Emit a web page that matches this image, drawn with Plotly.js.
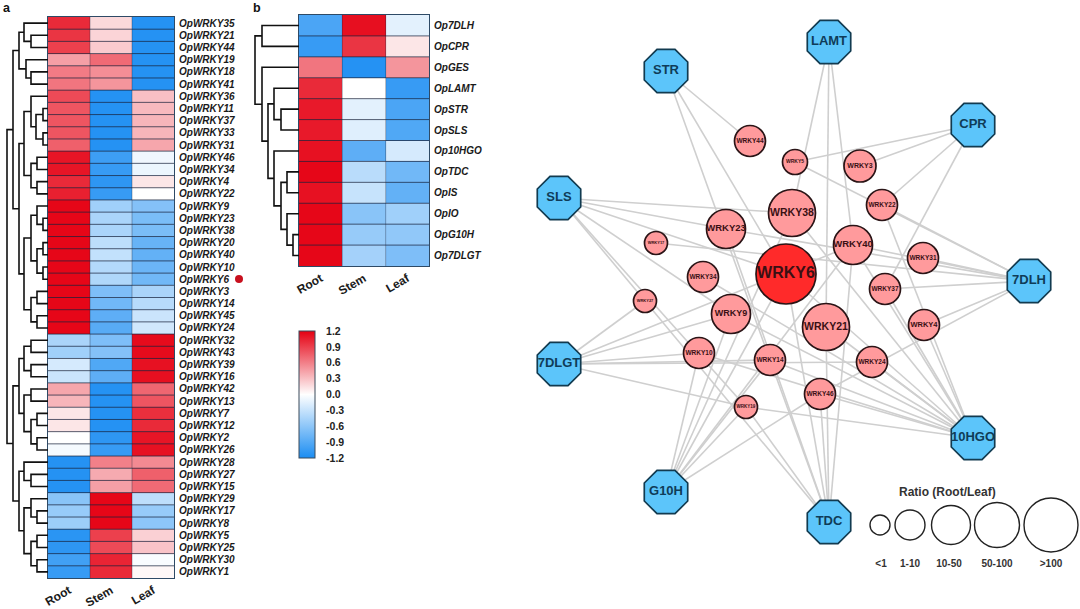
<!DOCTYPE html>
<html><head><meta charset="utf-8">
<script src="https://cdn.plot.ly/plotly-3.0.1.min.js"></script>
<style>html,body{margin:0;padding:0;background:#fff}#c{width:1080px;height:609px}</style>
</head><body><div id="c"></div>
<script>
const tissues=['Root','Stem','Leaf'];
const genesA=['OpWRKY35','OpWRKY21','OpWRKY44','OpWRKY19','OpWRKY18','OpWRKY41','OpWRKY36','OpWRKY11','OpWRKY37','OpWRKY33','OpWRKY31','OpWRKY46','OpWRKY34','OpWRKY4','OpWRKY22','OpWRKY9','OpWRKY23','OpWRKY38','OpWRKY20','OpWRKY40','OpWRKY10','OpWRKY6','OpWRKY3','OpWRKY14','OpWRKY45','OpWRKY24','OpWRKY32','OpWRKY43','OpWRKY39','OpWRKY16','OpWRKY42','OpWRKY13','OpWRKY7','OpWRKY12','OpWRKY2','OpWRKY26','OpWRKY28','OpWRKY27','OpWRKY15','OpWRKY29','OpWRKY17','OpWRKY8','OpWRKY5','OpWRKY25','OpWRKY30','OpWRKY1'];
const rootA=[1.0,.95,.9,.45,.62,.65,.85,.8,.8,.8,.75,1.1,1.1,1.0,1.05,1.17,1.17,1.17,1.17,1.17,1.17,1.17,1.17,1.17,1.17,1.17,-.45,-.5,-.22,-.28,.42,.35,.12,.12,0,-.05,-1.15,-1.15,-1.15,-.62,-.55,-.52,-1.12,-1.1,-1.0,-1.05];
const stemA=[.18,.2,.25,.7,.53,.5,-1.15,-1.15,-1.15,-1.15,-1.15,-1.02,-1.05,-1.1,-1.05,-.5,-.45,-.45,-.35,-.32,-.4,-.42,-.68,-.75,-.85,-.88,-.68,-.65,-.92,-.85,-1.15,-1.15,-1.15,-1.15,-1.1,-1.05,.6,.4,.45,1.17,1.17,1.17,.9,.85,1.03,1.0];
const leafA=[-1.15,-1.15,-1.15,-1.15,-1.15,-1.15,.3,.33,.35,.35,.42,-.08,-.1,.12,0,-.65,-.7,-.7,-.8,-.82,-.78,-.75,-.45,-.38,-.28,-.25,1.15,1.15,1.12,1.13,.72,.8,.98,1.0,1.1,1.12,.55,.75,.7,-.35,-.55,-.6,.22,.28,-.03,.04];
const genesB=['Op7DLH','OpCPR','OpGES','OpLAMT','OpSTR','OpSLS','Op10HGO','OpTDC','OpIS','OpIO','OpG10H','Op7DLGT'];
const rootB=[-.95,-1.05,.65,1.0,1.08,1.08,1.12,1.17,1.12,1.17,1.17,1.17];
const stemB=[1.13,.95,-1.15,0,-.15,-.17,-.85,-.37,-.3,-.62,-.55,-.48];
const leafB=[-.15,.12,.5,-1.05,-.95,-.92,-.22,-.75,-.82,-.5,-.58,-.68];
const cbTicks=[-1.2,-.9,-.6,-.3,0,.3,.6,.9,1.2];
const cbLabels=['-1.2','-0.9','-0.6','-0.3','0.0','0.3','0.6','0.9','1.2'];
// dendrogram merges: [merge height, left branch, right branch]; a number is a row
const treeA=[41,[35,[29,[24,0,[17,1,2]],[22,3,[17,4,5]]],[29,[24,[17,6,[12,[5,7,8],[5,9,10]]],[17,[11,11,12],[11,13,14]]],[24,[17,[11,15,[5,16,17]],[11,[5,18,19],[5,20,21]]],[17,[11,22,23],[11,24,25]]]]],[35,[29,[24,[17,26,27],[17,28,29]],[24,[17,30,31],[17,[11,32,33],[11,34,35]]]],[29,[24,36,[17,37,38]],[24,[17,39,[11,40,41]],[17,[11,42,43],[11,44,45]]]]]];
const treeB=[44,[37,0,1],[37,2,[31,[25,3,[18,4,5]],[25,6,[18,[12,7,8],[12,9,[6,10,11]]]]]]];
// network
const hubNames=['LAMT','STR','CPR','SLS','7DLH','7DLGT','10HGO','G10H','TDC'];
const hubX=[829,666,973,559,1029,559,973,666,829];
const hubY=[42,71,125,198,281,364,438,492,522];
const nodeNames=['WRKY6','WRKY44','WRKY5','WRKY3','WRKY22','WRKY38','WRKY23','WRKY40','WRKY17','WRKY31','WRKY34','WRKY37','WRKY27','WRKY9','WRKY21','WRKY4','WRKY10','WRKY14','WRKY24','WRKY46','WRKY19'];
const nodeX=[786,750,795,860,882,792,726,853,656,923,703,885,645,731,826,924,699,770,872,820,746];
const nodeY=[274,141,162,166,205,213,229,245,243,258,277,289,301,314,327,325,353,360,362,394,407];
const nodeD=[60,31,25,32,31,47,39,39,23,31,31,31,23,39,47,31,31,31,31,31,23];
const nodeFont=[16,6.5,5,7,6.5,10.5,9.5,9.5,4,6.5,6.5,6.5,4,9,10.5,7.5,6.5,6.5,6.5,6.5,4.5];
const links=[
['LAMT','WRKY38'],['LAMT','WRKY21'],['LAMT','WRKY40'],
['STR','WRKY44'],['STR','WRKY14'],['STR','WRKY6'],
['CPR','WRKY5'],['CPR','WRKY3'],['CPR','WRKY22'],['CPR','WRKY37'],
['SLS','WRKY38'],['SLS','WRKY23'],['SLS','WRKY6'],['SLS','WRKY9'],['SLS','WRKY27'],['SLS','WRKY19'],
['7DLH','WRKY17'],['7DLH','WRKY5'],['7DLH','WRKY31'],['7DLH','WRKY40'],['7DLH','WRKY37'],['7DLH','WRKY4'],['7DLH','WRKY46'],['7DLH','WRKY23'],['7DLH','WRKY22'],
['7DLGT','WRKY27'],['7DLGT','WRKY40'],['7DLGT','WRKY9'],['7DLGT','WRKY10'],['7DLGT','WRKY14'],['7DLGT','WRKY24'],['7DLGT','WRKY19'],
['G10H','WRKY10'],['G10H','WRKY9'],['G10H','WRKY38'],['G10H','WRKY6'],['G10H','WRKY14'],['G10H','WRKY40'],['G10H','WRKY19'],['G10H','WRKY46'],
['TDC','WRKY27'],['TDC','WRKY14'],['TDC','WRKY23'],['TDC','WRKY6'],['TDC','WRKY46'],['TDC','WRKY21'],['TDC','WRKY40'],['TDC','WRKY19'],
['10HGO','WRKY22'],['10HGO','WRKY4'],['10HGO','WRKY37'],['10HGO','WRKY38'],['10HGO','WRKY21'],['10HGO','WRKY24'],['10HGO','WRKY46'],['10HGO','WRKY9'],['10HGO','WRKY34'],['10HGO','WRKY14'],['10HGO','WRKY10'],['10HGO','WRKY19'],['10HGO','WRKY6'],['10HGO','WRKY40']];
const ratioLabels=['<1','1-10','10-50','50-100','>100'];
const ratioX=[880,910,951,997,1051];
const ratioLabelX=[881,910,949,997,1051];
const ratioD=[20,30,39,45,54];
const ratioY=525, ratioLabelY=564;

const W=1080,H=609,SANS='"Liberation Sans",Arial,sans-serif';
const cs=[[0,'#1B8DF2'],[.5,'#FFFFFF'],[1,'#E50012']];
const px=(a,b)=>[a/W,b/W], py=(t,b)=>[1-b/H,1-t/H];
function treeLines(n,xs,ys){
  if(typeof n==='number')return{h:0,y:n};
  const a=treeLines(n[1],xs,ys),b=treeLines(n[2],xs,ys);
  xs.push(a.h,n[0],n[0],b.h,null);ys.push(a.y,a.y,b.y,b.y,null);
  return{h:n[0],y:(a.y+b.y)/2};
}
function gridLines(nr,xa,ya){
  const xs=[],ys=[],vx=[],vy=[];
  for(let i=1;i<nr;i++){xs.push(-.5,2.5,null);ys.push(i-.5,i-.5,null);}
  for(const c of [.5,1.5]){vx.push(c,c,null);vy.push(-.5,nr-.5,null);}
  return[{type:'scatter',mode:'lines',x:xs,y:ys,xaxis:xa,yaxis:ya,line:{color:'rgba(25,35,60,.72)',width:1},hoverinfo:'skip',showlegend:false},
         {type:'scatter',mode:'lines',x:vx,y:vy,xaxis:xa,yaxis:ya,line:{color:'rgba(25,35,60,.35)',width:1},hoverinfo:'skip',showlegend:false}];
}
const traces=[];
const zA=genesA.map((_,i)=>[rootA[i],stemA[i],leafA[i]]);
const zB=genesB.map((_,i)=>[rootB[i],stemB[i],leafB[i]]);
traces.push({type:'heatmap',z:zA,x:[0,1,2],y:genesA.map((_,i)=>i),xaxis:'x',yaxis:'y',colorscale:cs,zmin:-1.2,zmax:1.2,
 colorbar:{thickness:16,thicknessmode:'pixels',len:127,lenmode:'pixels',x:299/W,xanchor:'left',y:1-331/H,yanchor:'top',xpad:0,ypad:0,
  outlinecolor:'#3a4a5a',outlinewidth:1,tickmode:'array',tickvals:cbTicks,ticktext:cbLabels,ticks:'outside',ticklen:9,tickcolor:'rgba(0,0,0,0)',
  tickfont:{family:SANS,size:10.5,color:'#222',weight:'bold'}}});
traces.push({type:'heatmap',z:zB,x:[0,1,2],y:genesB.map((_,i)=>i),xaxis:'x3',yaxis:'y3',colorscale:cs,zmin:-1.2,zmax:1.2,showscale:false});
traces.push(...gridLines(genesA.length,'x','y'),...gridLines(genesB.length,'x3','y3'));
let xs=[],ys=[];treeLines(treeA,xs,ys);
traces.push({type:'scatter',mode:'lines',x:xs,y:ys,xaxis:'x2',yaxis:'y',line:{color:'#111',width:1.6},hoverinfo:'skip',showlegend:false});
xs=[];ys=[];treeLines(treeB,xs,ys);
traces.push({type:'scatter',mode:'lines',x:xs,y:ys,xaxis:'x4',yaxis:'y3',line:{color:'#111',width:1.6},hoverinfo:'skip',showlegend:false});
// network
const pos={};
hubNames.forEach((n,i)=>pos[n]=[hubX[i],hubY[i]]);
nodeNames.forEach((n,i)=>pos[n]=[nodeX[i],nodeY[i]]);
const ex=[],ey=[];
links.forEach(([a,b])=>{ex.push(pos[a][0],pos[b][0],null);ey.push(pos[a][1],pos[b][1],null);});
traces.push({type:'scatter',mode:'lines',x:ex,y:ey,xaxis:'x5',yaxis:'y5',line:{color:'#CFCFCF',width:1.6},hoverinfo:'skip',showlegend:false});
traces.push({type:'scatter',mode:'markers+text',x:nodeX,y:nodeY,text:nodeNames,textposition:'middle center',xaxis:'x5',yaxis:'y5',
 marker:{symbol:'circle',size:nodeD,opacity:1,color:nodeNames.map(n=>n==='WRKY6'?'#FF2A2A':'#FF9A9C'),line:{color:'#2A1416',width:1.7}},
 textfont:{family:SANS,size:nodeFont,color:'#3A1014',weight:'bold'},showlegend:false,hoverinfo:'text'});
traces.push({type:'scatter',mode:'markers+text',x:hubX,y:hubY,text:hubNames,textposition:'middle center',xaxis:'x5',yaxis:'y5',
 marker:{symbol:'octagon',size:47,opacity:1,color:'#5CC5FA',line:{color:'#123B50',width:1.7}},
 textfont:{family:SANS,size:13,color:'#0F3C58',weight:'bold'},showlegend:false,hoverinfo:'text'});
traces.push({type:'scatter',mode:'markers',x:ratioX,y:ratioX.map(()=>ratioY),xaxis:'x5',yaxis:'y5',
 marker:{symbol:'circle',size:ratioD,opacity:1,color:'#FFFFFF',line:{color:'#222',width:1.4}},showlegend:false,hoverinfo:'skip'});
traces.push({type:'scatter',mode:'text',x:ratioLabelX,y:ratioX.map(()=>ratioLabelY),text:ratioLabels,textposition:'middle center',xaxis:'x5',yaxis:'y5',
 textfont:{family:SANS,size:10,color:'#333',weight:'bold'},showlegend:false,hoverinfo:'skip'});
traces.push({type:'scatter',mode:'markers',x:[239],y:[279],xaxis:'x5',yaxis:'y5',marker:{symbol:'circle',size:8,opacity:1,color:'#C8101E'},showlegend:false,hoverinfo:'skip'});

const geneFont={family:SANS,size:10,color:'#1a1a1a',weight:'bold',style:'italic'};
const colFont={family:SANS,size:12,color:'#1a1a1a',weight:'bold'};
const box={showline:true,mirror:true,linecolor:'#2E4A66',linewidth:1,showgrid:false,zeroline:false};
const hidden={visible:false,showgrid:false,zeroline:false,fixedrange:true};
const layout={width:W,height:H,margin:{l:0,r:0,t:0,b:0},paper_bgcolor:'#fff',plot_bgcolor:'rgba(0,0,0,0)',showlegend:false,
 xaxis:{...box,domain:px(48,174),range:[-.5,2.5],anchor:'y',tickmode:'array',tickvals:[0,1,2],ticktext:tissues,tickangle:-30,tickfont:colFont,ticks:'',ticklen:0},
 yaxis:{...box,domain:py(17,578),range:[genesA.length-.5,-.5],anchor:'x',side:'right',tickmode:'array',tickvals:genesA.map((_,i)=>i),ticktext:genesA,tickfont:geneFont,ticks:'outside',ticklen:2,tickcolor:'rgba(0,0,0,0)'},
 xaxis2:{...hidden,domain:px(0,48),range:[48,0],anchor:'y'},
 xaxis3:{...box,domain:px(299,429),range:[-.5,2.5],anchor:'y3',tickmode:'array',tickvals:[0,1,2],ticktext:tissues,tickangle:-30,tickfont:colFont,ticks:'',ticklen:0},
 yaxis3:{...box,domain:py(15,266),range:[genesB.length-.5,-.5],anchor:'x3',side:'right',tickmode:'array',tickvals:genesB.map((_,i)=>i),ticktext:genesB,tickfont:geneFont,ticks:'outside',ticklen:2,tickcolor:'rgba(0,0,0,0)'},
 xaxis4:{...hidden,domain:px(250,299),range:[49,0],anchor:'y3'},
 xaxis5:{...hidden,domain:[0,1],range:[0,W],anchor:'y5'},
 yaxis5:{...hidden,domain:[0,1],range:[H,0],anchor:'x5'},
 annotations:[
  {xref:'paper',yref:'paper',x:1/W,y:1-8/H,text:'<b>a</b>',showarrow:false,xanchor:'left',yanchor:'middle',font:{family:SANS,size:12.5,color:'#111'}},
  {xref:'paper',yref:'paper',x:251/W,y:1-8/H,text:'<b>b</b>',showarrow:false,xanchor:'left',yanchor:'middle',font:{family:SANS,size:12.5,color:'#111'}},
  {xref:'paper',yref:'paper',x:947/W,y:1-492/H,text:'<b>Ratio (Root/Leaf)</b>',showarrow:false,xanchor:'center',yanchor:'middle',font:{family:SANS,size:12,color:'#333'}}
 ]};
Plotly.newPlot('c',traces,layout,{displayModeBar:false,staticPlot:true});
</script></body></html>
